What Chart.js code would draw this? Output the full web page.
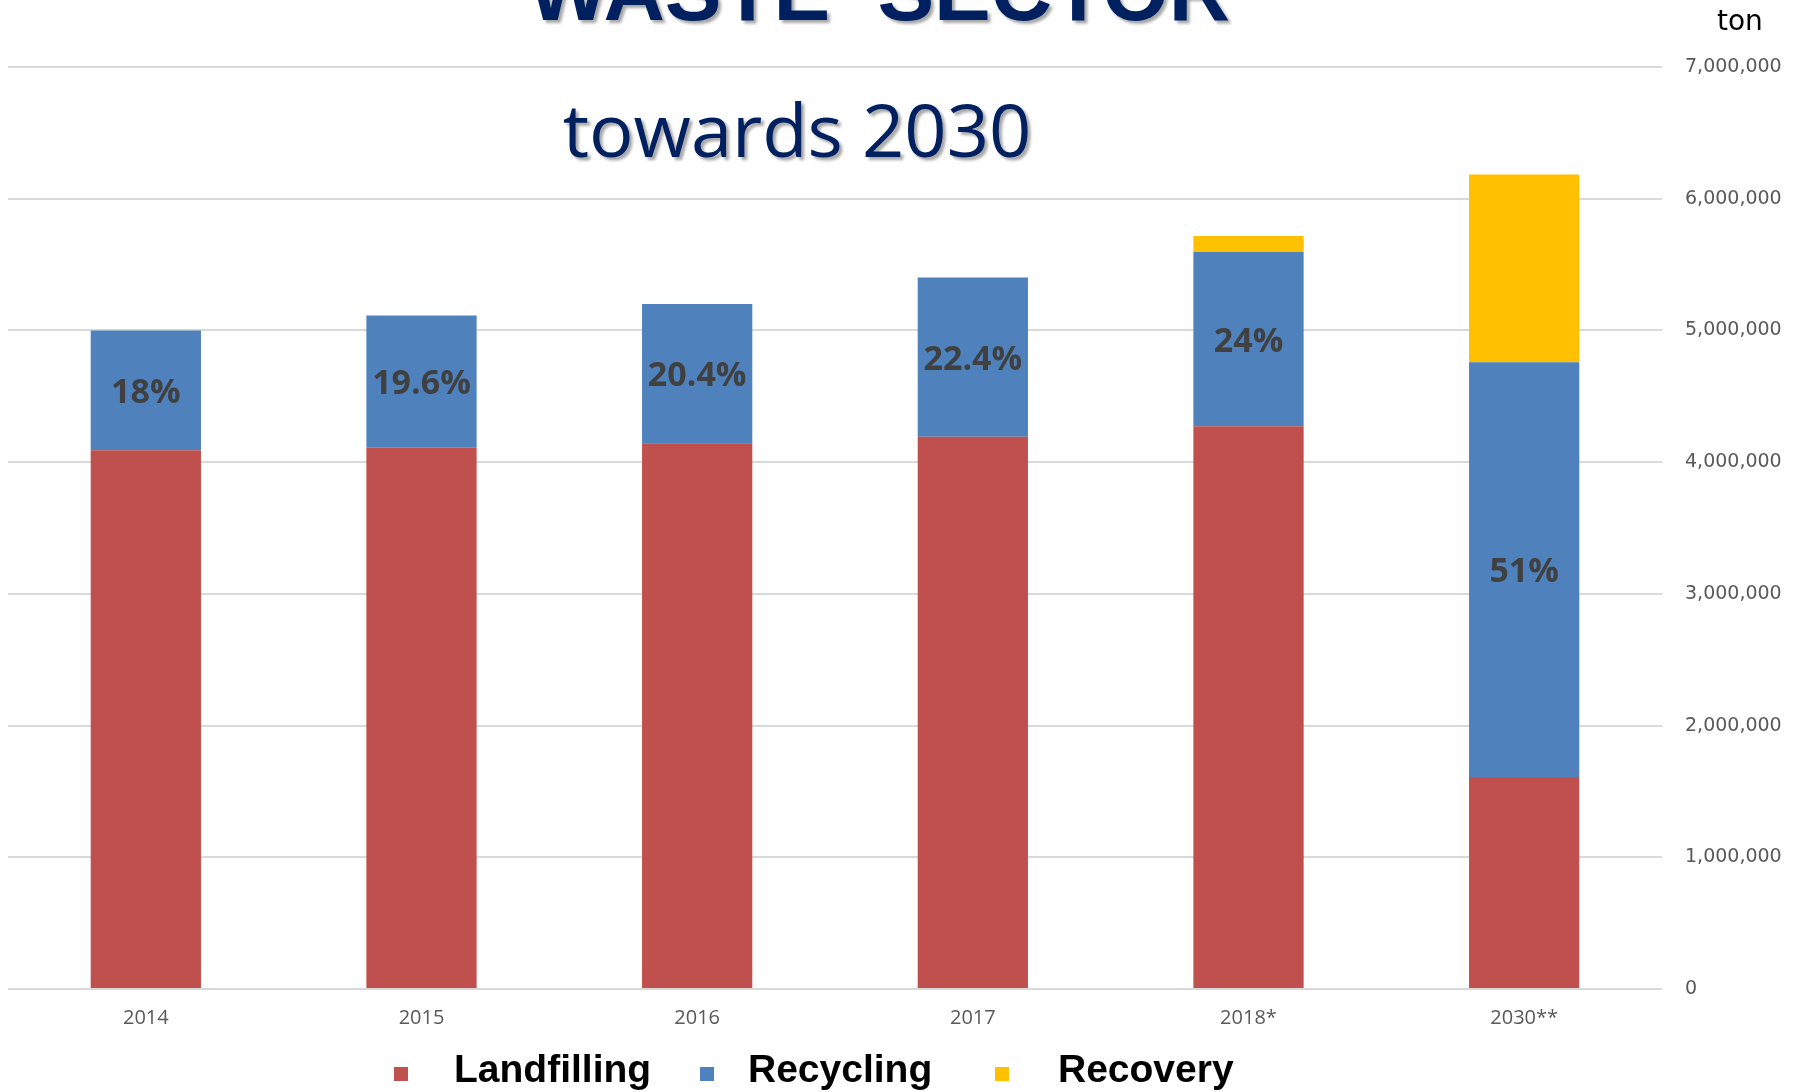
<!DOCTYPE html>
<html>
<head>
<meta charset="utf-8">
<script src="https://cdn.jsdelivr.net/npm/chart.js@4"></script>
<style>
  html, body { margin: 0; padding: 0; background: #fff; }
  #wrap { width: 1802px; height: 1092px; }
</style>
</head>
<body>
<div id="wrap"><canvas id="myChart" width="1802" height="1092"></canvas></div>
<script>
// data (tons)
let years = ['2014', '2015', '2016', '2017', '2018*', '2030**'];
let landfilling = [4090000, 4110000, 4144000, 4193000, 4273000, 1609000];
let recycling = [910000, 1003000, 1057000, 1208000, 1322000, 3150000];
let recovery = [0, 0, 0, 0, 122000, 1424000];
let recyclingShare = ['18%', '19.6%', '20.4%', '22.4%', '24%', '51%'];
let seriesNames = ['Landfilling', 'Recycling', 'Recovery'];
let seriesColors = ['#C0504D', '#4F81BD', '#FFC000'];

// % labels in the middle of the blue bars
let shareLabels = {
  id: 'shareLabels',
  afterDatasetsDraw(chart) {
    let ctx = chart.ctx;
    let meta = chart.getDatasetMeta(1);
    ctx.save();
    ctx.font = 'bold 34px "Open Sans"';
    ctx.fillStyle = '#404040';
    ctx.textAlign = 'center';
    ctx.textBaseline = 'middle';
    meta.data.forEach((bar, i) => {
      ctx.fillText(recyclingShare[i], bar.x, (bar.y + bar.base) / 2 + 3);
    });
    ctx.restore();
  }
};

// headings, unit and legend
let decorations = {
  id: 'decorations',
  afterDraw(chart) {
    let ctx = chart.ctx;
    ctx.save();
    ctx.shadowColor = 'rgba(0,0,0,0.35)';
    ctx.shadowOffsetX = 3;
    ctx.shadowOffsetY = 3;
    ctx.shadowBlur = 3;
    ctx.fillStyle = '#002060';
    ctx.textAlign = 'center';
    ctx.textBaseline = 'alphabetic';
    ctx.font = 'bold 85px "Liberation Sans"';
    ctx.fillText('WASTE  SECTOR', 879, 20);
    ctx.font = '74px "Open Sans"';
    ctx.fillText('towards 2030', 797, 157);
    ctx.restore();

    ctx.save();
    ctx.fillStyle = '#000';
    ctx.font = '28px "DejaVu Sans"';
    ctx.textAlign = 'left';
    ctx.textBaseline = 'alphabetic';
    ctx.fillText('ton', 1717, 30);

    // legend
    let boxX = [394, 700, 995];
    let textX = [454, 748, 1058];
    ctx.font = 'bold 39px "Liberation Sans"';
    ctx.textBaseline = 'middle';
    seriesNames.forEach((name, i) => {
      ctx.fillStyle = seriesColors[i];
      ctx.fillRect(boxX[i], 1067, 14, 14);
      ctx.fillStyle = '#000';
      ctx.fillText(name, textX[i], 1071);
    });
    ctx.restore();
  }
};

let ctx = document.getElementById('myChart').getContext('2d');
let myChart = new Chart(ctx, {
  type: 'bar',
  data: {
    labels: years,
    datasets: [
      { label: seriesNames[0], data: landfilling, backgroundColor: seriesColors[0] },
      { label: seriesNames[1], data: recycling, backgroundColor: seriesColors[1] },
      { label: seriesNames[2], data: recovery, backgroundColor: seriesColors[2] }
    ]
  },
  options: {
    responsive: false,
    animation: false,
    layout: { padding: { left: 8, top: 67, right: 0, bottom: 0 } },
    datasets: {
      bar: { barPercentage: 0.4, categoryPercentage: 1 }
    },
    plugins: {
      legend: { display: false },
      tooltip: { enabled: false }
    },
    scales: {
      x: {
        stacked: true,
        grid: { display: false, drawTicks: false },
        border: { display: false },
        ticks: {
          padding: 17,
          color: '#595959',
          font: { family: 'Open Sans', size: 20 }
        },
        afterFit(scale) { scale.height = 103; }
      },
      y: {
        stacked: true,
        position: 'right',
        min: 0,
        max: 7000000,
        grid: { color: '#d9d9d9', lineWidth: 2, drawTicks: false },
        border: { display: false },
        ticks: {
          stepSize: 1000000,
          padding: 23,
          color: '#595959',
          font: { family: 'DejaVu Sans', size: 19 },
          callback: (v) => v.toLocaleString('en-US')
        },
        afterFit(scale) { scale.width = 140; }
      }
    }
  },
  plugins: [shareLabels, decorations]
});
</script>
</body>
</html>
